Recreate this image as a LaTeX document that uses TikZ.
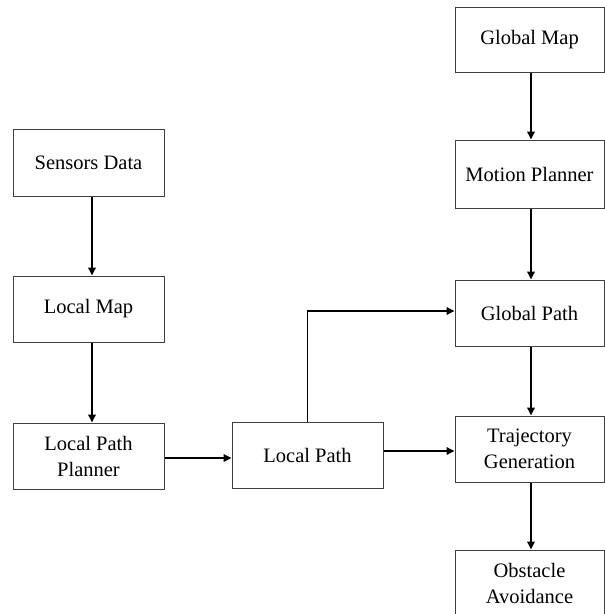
\documentclass[tikz,border=0pt]{standalone}
\usepackage{fontspec}
\setmainfont{Liberation Serif}
\usetikzlibrary{arrows.meta}
\begin{document}
\begin{tikzpicture}[x=1pt,y=-1pt,
  box/.style={draw=black!75, line width=1pt, fill=white, inner sep=0pt,
    minimum width=151pt, minimum height=66pt, align=center,
    font=\fontsize{20.5}{26}\selectfont},
  rbox/.style={box, minimum width=149pt},
  link/.style={line width=1.8pt, -{Triangle[length=8pt,width=7.5pt]}}]
\useasboundingbox (0,0) rectangle (605,614);
\clip (0,0) rectangle (605,614);
\fill[white] (0,0) rectangle (605,614);
% right column
\node[rbox, minimum height=65pt] (gmap) at (529.5,39.5) {Global Map};
\node[rbox, minimum height=68pt] (motion) at (529.5,174) {Motion Planner};
\node[rbox] (gpath) at (529.5,313) {Global Path};
\node[rbox] (traj) at (529.5,449) {Trajectory\\Generation};
\node[rbox] (obst) at (529.5,583) {Obstacle\\Avoidance};
% left column
\node[box, minimum height=67pt] (sensors) at (88.5,162.5) {Sensors Data};
\node[box] (lmap) at (88.5,309) {Local Map};
\node[box] (lpp) at (88.5,456) {Local Path\\Planner};
% middle
\node[box] (lpath) at (307.5,455) {Local Path};
% connectors
\draw[link] ([xshift=1.5pt]gmap.south) -- ([xshift=1.5pt]motion.north);
\draw[link] ([xshift=1.5pt]motion.south) -- ([xshift=1.5pt]gpath.north);
\draw[link] ([xshift=1.5pt]gpath.south) -- ([xshift=1.5pt]traj.north);
\draw[link] ([xshift=1.5pt]traj.south) -- ([xshift=1.5pt]obst.north);
\draw[link] ([xshift=3.5pt]sensors.south) -- ([xshift=3.5pt]lmap.north);
\draw[link] ([xshift=3.5pt]lmap.south) -- ([xshift=3.5pt]lpp.north);
\draw[link] ([yshift=-2pt]lpp.east) -- ([yshift=-2pt]lpp.east -| lpath.west);
\draw[link] ([yshift=4pt]lpath.east) -- ([yshift=4pt]lpath.east -| traj.west);
\draw[link] (lpath.north) |- ([yshift=2pt]gpath.west);
\end{tikzpicture}
\end{document}
